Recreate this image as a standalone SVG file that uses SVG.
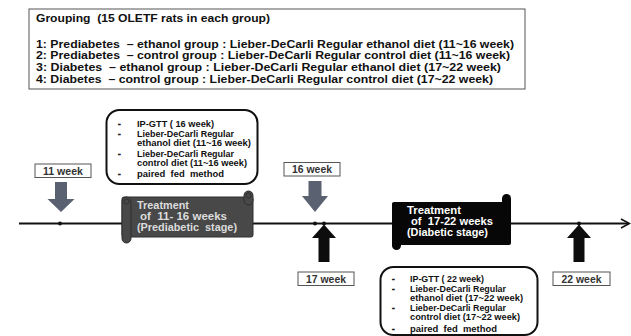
<svg xmlns="http://www.w3.org/2000/svg" width="631" height="336" viewBox="0 0 631 336">
<defs>
<style>
text{font-family:"Liberation Sans",Arial,sans-serif;font-weight:bold;white-space:pre}
.grp{font-size:11.5px;fill:#111}
.cal{font-size:9px;fill:#111}
.bul{font-size:8px;fill:#111;stroke:#111;stroke-width:0.6}
.wk{font-size:10px;fill:#333;text-anchor:middle}
.callout{fill:#fff;stroke:#111;stroke-width:2}
.wkbox{fill:#fff;stroke:#555;stroke-width:1}
.down{fill:#5a6170}
.up{fill:#0d0d0d}
.s1{fill:#dcdcdc;font-size:11px}
.s2{fill:#fff;font-size:11px}
</style>
</defs>
<rect width="631" height="336" fill="#fff"/>

<g id="grouping">
<rect x="29" y="9" width="496" height="80" fill="#fff" stroke="#555" stroke-width="1"/>
<text class="grp" x="36" y="22" textLength="234" lengthAdjust="spacingAndGlyphs">Grouping  (15 OLETF rats in each group)</text>
<text class="grp" x="36" y="47.5" textLength="478" lengthAdjust="spacingAndGlyphs">1: Prediabetes  – ethanol group : Lieber-DeCarli Regular ethanol diet (11~16 week)</text>
<text class="grp" x="36" y="59.2" textLength="474" lengthAdjust="spacingAndGlyphs">2: Prediabetes  – control group : Lieber-DeCarli Regular control diet (11~16 week)</text>
<text class="grp" x="36" y="70.9" textLength="465" lengthAdjust="spacingAndGlyphs">3: Diabetes  – ethanol group : Lieber-DeCarli Regular ethanol diet (17~22 week)</text>
<text class="grp" x="36" y="82.6" textLength="457" lengthAdjust="spacingAndGlyphs">4: Diabetes  – control group : Lieber-DeCarli Regular control diet (17~22 week)</text>
</g>

<g id="connectors">
<line x1="19" y1="223.5" x2="629" y2="223.5" stroke="#111" stroke-width="2"/>
<polyline points="621,219 629.5,223.5 621,228" fill="none" stroke="#111" stroke-width="1.6"/>
<circle cx="60" cy="223.5" r="2" fill="#111"/>
<circle cx="315" cy="223.5" r="2" fill="#111"/>
<circle cx="324" cy="223.5" r="2" fill="#111"/>
<circle cx="579" cy="223.5" r="2" fill="#111"/>
</g>

<g id="callout16">
<rect class="callout" x="106.5" y="110" width="151" height="74" rx="13"/>
<text class="bul" x="118" y="126">-</text>
<text class="cal" x="137" y="126.5" textLength="77" lengthAdjust="spacingAndGlyphs">IP-GTT ( 16 week)</text>
<text class="bul" x="118" y="136">-</text>
<text class="cal" x="137" y="136.5" textLength="97" lengthAdjust="spacingAndGlyphs">Lieber-DeCarli Regular</text>
<text class="cal" x="137" y="145.5" textLength="114" lengthAdjust="spacingAndGlyphs">ethanol diet (11~16 week)</text>
<text class="bul" x="118" y="156">-</text>
<text class="cal" x="137" y="156.5" textLength="97" lengthAdjust="spacingAndGlyphs">Lieber-DeCarli Regular</text>
<text class="cal" x="137" y="165.5" textLength="110" lengthAdjust="spacingAndGlyphs">control diet (11~16 week)</text>
<text class="bul" x="118" y="176">-</text>
<text class="cal" x="137" y="176.5" textLength="87" lengthAdjust="spacingAndGlyphs">paired  fed  method</text>
</g>

<g id="callout22">
<rect class="callout" x="380.5" y="267" width="157" height="68" rx="13"/>
<text class="bul" x="392" y="281">-</text>
<text class="cal" x="410" y="281.5" textLength="74" lengthAdjust="spacingAndGlyphs">IP-GTT ( 22 week)</text>
<text class="bul" x="392" y="291">-</text>
<text class="cal" x="410" y="291.5" textLength="96" lengthAdjust="spacingAndGlyphs">Lieber-DeCarli Regular</text>
<text class="cal" x="410" y="300.5" textLength="113" lengthAdjust="spacingAndGlyphs">ethanol diet (17~22 week)</text>
<text class="bul" x="392" y="310">-</text>
<text class="cal" x="410" y="310.5" textLength="96" lengthAdjust="spacingAndGlyphs">Lieber-DeCarli Regular</text>
<text class="cal" x="410" y="320" textLength="110" lengthAdjust="spacingAndGlyphs">control diet (17~22 week)</text>
<text class="bul" x="392" y="331">-</text>
<text class="cal" x="410" y="331.5" textLength="87" lengthAdjust="spacingAndGlyphs">paired  fed  method</text>
</g>

<g id="week11">
<rect class="wkbox" x="35" y="164" width="56" height="13.5"/>
<text class="wk" x="63" y="174.5" textLength="40" lengthAdjust="spacingAndGlyphs">11 week</text>
<polygon class="down" points="55,182 67,182 67,199 74.5,199 61,212 47.5,199 55,199"/>
</g>

<g id="week16">
<rect class="wkbox" x="284" y="162.5" width="56" height="13.5"/>
<text class="wk" x="312" y="173" textLength="40" lengthAdjust="spacingAndGlyphs">16 week</text>
<polygon class="down" points="308.5,181 321.5,181 321.5,196 328,196 315,212 302,196 308.5,196"/>
</g>

<g id="week17">
<polygon class="up" points="324,224.5 336,238 329.5,238 329.5,262 318.5,262 318.5,238 312,238"/>
<rect class="wkbox" x="298" y="272" width="56" height="13.5"/>
<text class="wk" x="326" y="282.5" textLength="40" lengthAdjust="spacingAndGlyphs">17 week</text>
</g>

<g id="week22">
<polygon class="up" points="579,224.5 591,238 584.5,238 584.5,262 573.5,262 573.5,238 567,238"/>
<rect class="wkbox" x="553" y="272" width="57" height="13.5"/>
<text class="wk" x="581.5" y="282.5" textLength="40" lengthAdjust="spacingAndGlyphs">22 week</text>
</g>

<g id="scroll-prediabetic">
<rect x="122" y="197" width="131" height="40" rx="2" fill="#484848" stroke="#2e2e2e" stroke-width="1"/>
<rect x="244" y="191" width="9" height="14" rx="4.5" fill="#484848" stroke="#2e2e2e" stroke-width="1"/>
<rect x="122" y="197" width="9" height="46" rx="4.5" fill="#484848" stroke="#2e2e2e" stroke-width="1"/>
<circle cx="126.5" cy="201.5" r="2.5" fill="none" stroke="#2a2a2a" stroke-width="0.8"/>
<circle cx="248.5" cy="195.5" r="2.5" fill="none" stroke="#2a2a2a" stroke-width="0.8"/>
<text class="s1" x="137" y="209" textLength="52" lengthAdjust="spacingAndGlyphs">Treatment</text>
<text class="s1" x="140" y="220" textLength="87" lengthAdjust="spacingAndGlyphs">of  11- 16 weeks</text>
<text class="s1" x="137" y="231" textLength="100" lengthAdjust="spacingAndGlyphs">(Prediabetic  stage)</text>
</g>

<g id="scroll-diabetic">
<rect x="392" y="202" width="119" height="43" rx="2" fill="#070707"/>
<rect x="502" y="194" width="9" height="14" rx="4.5" fill="#070707"/>
<rect x="392" y="202" width="9" height="48" rx="4.5" fill="#070707"/>
<text class="s2" x="407" y="214" textLength="54" lengthAdjust="spacingAndGlyphs">Treatment</text>
<text class="s2" x="411" y="225" textLength="82" lengthAdjust="spacingAndGlyphs">of  17-22 weeks</text>
<text class="s2" x="407" y="236" textLength="81" lengthAdjust="spacingAndGlyphs">(Diabetic stage)</text>
</g>
</svg>
